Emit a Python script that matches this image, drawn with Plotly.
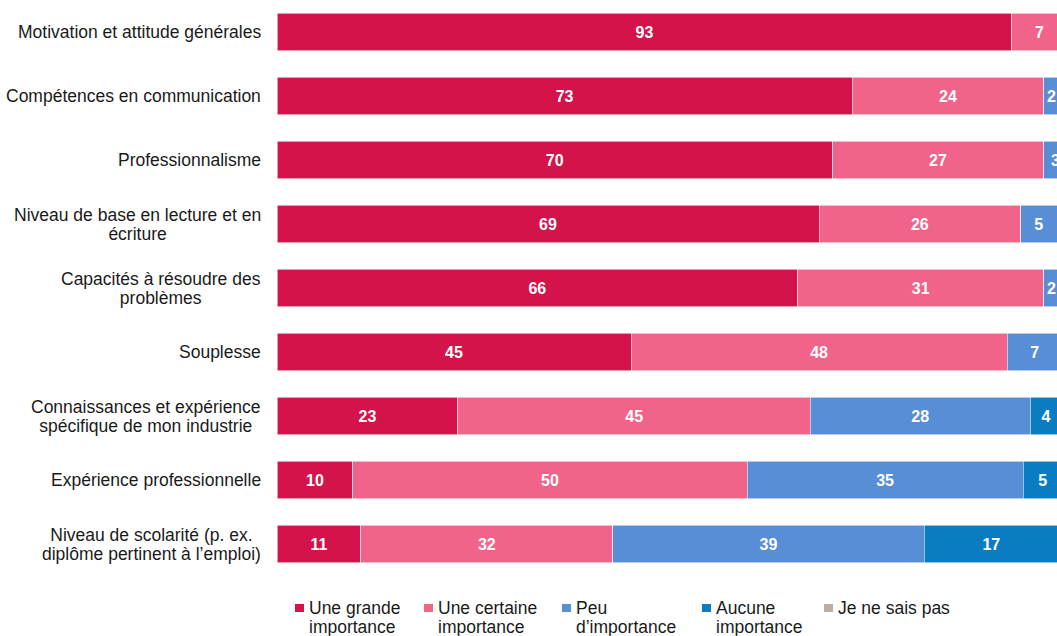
import plotly.graph_objects as go

categories = [
    "Motivation et attitude générales",
    "Compétences en communication",
    "Professionnalisme",
    "Niveau de base en lecture et en<br>écriture",
    "Capacités à résoudre des<br>problèmes",
    "Souplesse",
    "Connaissances et expérience<br>spécifique de mon industrie",
    "Expérience professionnelle",
    "Niveau de scolarité (p. ex.<br>diplôme pertinent à l’emploi)",
]

series_names = [
    "Une grande<br>importance",
    "Une certaine<br>importance",
    "Peu<br>d’importance",
    "Aucune<br>importance",
    "Je ne sais pas",
]

grande = [93, 72.8, 70.3, 68.6, 65.9, 44.8, 22.9, 9.6, 10.6]
certaine = [7, 24.2, 26.7, 25.5, 31.1, 47.6, 44.6, 49.9, 31.9]
peu = [0, 2, 3, 4.6, 2, 7, 27.8, 34.9, 39.4]
aucune = [0, 0, 0, 1, 0, 0, 4, 5, 17]
nsp = [0, 0, 0, 0, 0, 0, 0, 0, 1]

colors = ["#D4134A", "#F26389", "#588ED6", "#0A7DC2", "#B9AFA5"]

W, H = 1057, 636
ML, MR, MT, MB = 277, 0, 0, 60
PW, PH = W - ML - MR, H - MT - MB
FONT = "Liberation Sans"
TXT = "#1a1a1a"
FS = 17.5
LINE_GAP = 18.5  # desired distance between lines of wrapped labels

fig = go.Figure()
for name, vals, col in zip(series_names, [grande, certaine, peu, aucune, nsp], colors):
    fig.add_trace(go.Bar(
        y=categories, x=vals, name=name.replace("<br>", " "), orientation="h",
        marker=dict(color=col, line=dict(color="rgba(255,255,255,0.7)", width=0.8)),
        text=[f"{v:.0f}" if v > 0 else "" for v in vals],
        textposition="inside", insidetextanchor="middle", textangle=0,
        constraintext="none",
        textfont=dict(color="white", size=16, family=FONT, weight="bold"),
        hoverinfo="skip", showlegend=False,
    ))

fig.update_layout(
    barmode="stack",
    width=W, height=H,
    margin=dict(l=ML, r=MR, t=MT, b=MB, autoexpand=False),
    plot_bgcolor="white", paper_bgcolor="white",
    bargap=0.42,
    font=dict(family=FONT, size=FS, color=TXT),
    xaxis=dict(range=[0, 98.7], visible=False, fixedrange=True),
    yaxis=dict(autorange="reversed", showticklabels=False, showgrid=False,
               zeroline=False, fixedrange=True),
    showlegend=False,
)

# category labels: centred lines; base font size sets the (tighter) line spacing
base_fs = LINE_GAP / 1.3
for c in categories:
    text = "<br>".join(f"<span style='font-size:{FS}px'>{ln}</span>" for ln in c.split("<br>"))
    fig.add_annotation(x=0, xref="paper", y=c, yref="y", text=text, showarrow=False,
                       xanchor="right", yanchor="middle", align="center", xshift=-14,
                       font=dict(size=base_fs, family=FONT, color=TXT))

# legend drawn in pixel layout
legend_x_px = [295, 424, 562, 702, 824]
sq_w, sq_h, sq_top = 9, 8, 604
line1_y, line2_y = 608, 626.5

def px_x(px):
    return (px - ML) / PW

def px_y(py):
    return (H - MB - py) / PH

for name, col, lx in zip(series_names, colors, legend_x_px):
    fig.add_shape(type="rect", xref="paper", yref="paper",
                  x0=px_x(lx), x1=px_x(lx + sq_w),
                  y0=px_y(sq_top + sq_h), y1=px_y(sq_top),
                  fillcolor=col, line=dict(width=0))
    for i, line in enumerate(name.split("<br>")):
        fig.add_annotation(x=px_x(lx + sq_w + 3), xref="paper",
                           y=px_y(line1_y if i == 0 else line2_y), yref="paper",
                           text=line, showarrow=False, xanchor="left", yanchor="middle",
                           align="left", font=dict(size=FS, family=FONT, color=TXT))

fig.write_html("out.html", post_script="document.body.style.margin='0px';",
               config={"displayModeBar": False})
